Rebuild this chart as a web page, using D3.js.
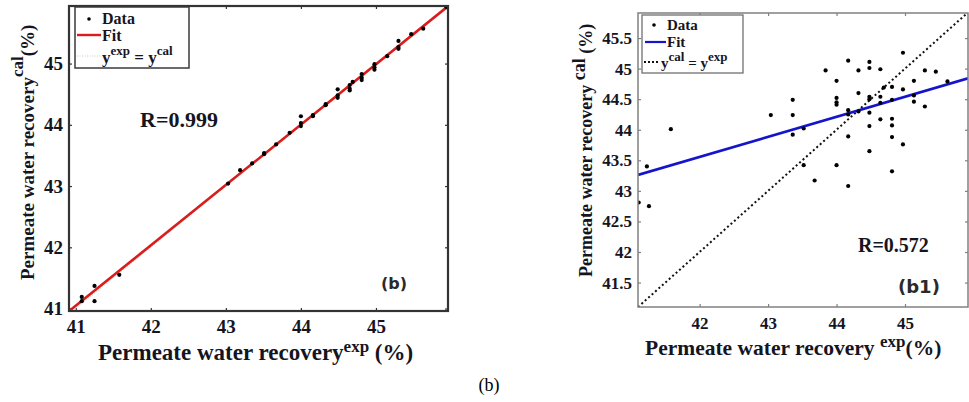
<!DOCTYPE html>
<html>
<head>
<meta charset="utf-8">
<script src="https://cdn.jsdelivr.net/npm/d3@7"></script>
<style>
  body { margin: 0; background: #fff; }
  svg { display: block; }
</style>
</head>
<body>
<script>
// values
var expLeft = [41.08, 41.08, 41.25, 41.25, 41.58, 43.03, 43.19, 43.35, 43.51, 43.51, 43.67, 43.85,
  44.00, 44.00, 44.00, 44.16, 44.16, 44.33, 44.33, 44.49, 44.49, 44.49, 44.65, 44.65, 44.65, 44.69,
  44.81, 44.81, 44.81, 44.98, 44.98, 44.98, 45.15, 45.30, 45.30, 45.30, 45.47, 45.63, 45.94];
var calLeft = [41.19, 41.12, 41.37, 41.12, 41.55, 43.04, 43.26, 43.37, 43.52, 43.54, 43.68, 43.87,
  44.14, 44.03, 43.98, 44.16, 44.14, 44.32, 44.34, 44.58, 44.48, 44.44, 44.65, 44.59, 44.56, 44.70,
  44.83, 44.77, 44.73, 44.99, 44.94, 44.90, 45.12, 45.37, 45.27, 45.24, 45.48, 45.57, 45.92];

var expRight = [41.11, 41.23, 41.26, 41.58, 43.04, 43.36, 43.36, 43.36, 43.52, 43.52, 43.68, 43.84,
  44.00, 44.00, 44.00, 44.00, 44.00, 44.17, 44.17, 44.17, 44.17, 44.17, 44.32, 44.32, 44.32,
  44.48, 44.48, 44.48, 44.48, 44.48, 44.48, 44.48, 44.64, 44.64, 44.64, 44.64, 44.69,
  44.81, 44.81, 44.81, 44.81, 44.81, 44.81, 44.97, 44.97, 44.97, 45.13, 45.13, 45.13,
  45.29, 45.29, 45.45, 45.62];
var calRight = [42.81, 43.40, 42.75, 44.01, 44.24, 44.49, 44.24, 43.92, 44.02, 43.42, 43.17, 44.97,
  44.80, 44.52, 44.45, 44.41, 43.42, 45.13, 44.32, 44.25, 43.89, 43.08, 44.97, 44.60, 44.30,
  45.11, 45.01, 44.54, 44.50, 44.28, 44.06, 43.65, 44.99, 44.54, 44.44, 44.17, 44.69,
  44.70, 44.49, 44.18, 44.07, 43.88, 43.32, 45.26, 44.66, 43.76, 44.80, 44.56, 44.46,
  44.97, 44.38, 44.95, 44.79];

var fitLeft = [0.62, 0.986];     // intercept, slope
var fitRight = [29.78, 0.328];

var xTicksLeft = [41, 42, 43, 44, 45];
var yTicksLeft = [41, 42, 43, 44, 45];
var xTicksRight = [42, 43, 44, 45];
var yTicksRight = [41.5, 42, 42.5, 43, 43.5, 44, 44.5, 45, 45.5];

var serif = "'Liberation Serif', 'Times New Roman', serif";
var ink = "#15151f";

var svg = d3.select("body").append("svg").attr("width", 969).attr("height", 402);
svg.append("rect").attr("width", 969).attr("height", 402).attr("fill", "#fff");

function panel(cfg) {
  var g = svg.append("g");
  var x = d3.scaleLinear().domain(cfg.xDomain).range([cfg.left, cfg.right]);
  var y = d3.scaleLinear().domain(cfg.yDomain).range([cfg.bottom, cfg.top]);
  var fmt = d3.format("~g");

  g.append("clipPath").attr("id", cfg.id + "clip")
    .append("rect").attr("x", cfg.left).attr("y", cfg.top)
    .attr("width", cfg.right - cfg.left).attr("height", cfg.bottom - cfg.top);

  function styleAxis(a) {
    a.select(".domain").remove();
    a.selectAll(".tick line").attr("stroke", cfg.frame).attr("stroke-width", 1.2);
    a.selectAll(".tick text").attr("font-family", serif).attr("font-weight", "bold")
      .attr("font-size", cfg.tickFont).attr("fill", ink);
  }

  g.append("g").attr("transform", "translate(0," + cfg.bottom + ")")
    .call(d3.axisBottom(x).tickValues(cfg.xTicks).tickSize(-3).tickPadding(cfg.xPad).tickFormat(fmt))
    .call(styleAxis);
  g.append("g").attr("transform", "translate(" + cfg.left + ",0)")
    .call(d3.axisLeft(y).tickValues(cfg.yTicks).tickSize(-3).tickPadding(cfg.yPad).tickFormat(fmt))
    .call(styleAxis);
  g.append("g").attr("transform", "translate(0," + cfg.top + ")")
    .call(d3.axisTop(x).tickValues(cfg.xTicks).tickSize(-3).tickFormat(""))
    .call(styleAxis);
  g.append("g").attr("transform", "translate(" + cfg.right + ",0)")
    .call(d3.axisRight(y).tickValues(cfg.yTicks).tickSize(-3).tickFormat(""))
    .call(styleAxis);

  var plot = g.append("g").attr("clip-path", "url(#" + cfg.id + "clip)");
  var line = d3.line().x(function (d) { return x(d[0]); }).y(function (d) { return y(d[1]); });
  var ends = cfg.xDomain;

  // y_exp = y_cal reference
  plot.append("path")
    .attr("d", line([[ends[0], ends[0]], [ends[1], ends[1]]]))
    .attr("fill", "none").attr("stroke", cfg.refColor).attr("stroke-width", cfg.refWidth)
    .attr("stroke-dasharray", cfg.refDash);

  // fit
  plot.append("path")
    .attr("d", line(ends.map(function (v) { return [v, cfg.fit[0] + cfg.fit[1] * v]; })))
    .attr("fill", "none").attr("stroke", cfg.fitColor).attr("stroke-width", 2.6);

  plot.selectAll("circle").data(cfg.exp).enter().append("circle")
    .attr("cx", function (d) { return x(d); })
    .attr("cy", function (d, i) { return y(cfg.cal[i]); })
    .attr("r", 2.1).attr("fill", "#000");

  g.append("rect").attr("x", cfg.left).attr("y", cfg.top)
    .attr("width", cfg.right - cfg.left).attr("height", cfg.bottom - cfg.top)
    .attr("fill", "none").attr("stroke", cfg.frame).attr("stroke-width", cfg.frameWidth);

  return { g: g, x: x, y: y };
}

// ---------- left panel (b) ----------
var L = panel({
  id: "pl", left: 69, right: 448, top: 6, bottom: 311,
  xDomain: [40.91, 45.96], yDomain: [40.96, 45.94],
  xTicks: xTicksLeft, yTicks: yTicksLeft, xPad: 9, yPad: 6, tickFont: 19,
  exp: expLeft, cal: calLeft, fit: fitLeft,
  fitColor: "#d91c1c", refColor: "#c8c8c8", refWidth: 1, refDash: "1,1.5",
  frame: "#333", frameWidth: 2.2
});

// legend
var lg = L.g.append("g");
lg.append("rect").attr("x", 75).attr("y", 7).attr("width", 114).attr("height", 61)
  .attr("fill", "#fff").attr("stroke", "#3a3a3a").attr("stroke-width", 1.5);
lg.append("circle").attr("cx", 89).attr("cy", 19).attr("r", 1.8).attr("fill", "#000");
lg.append("line").attr("x1", 77).attr("x2", 101).attr("y1", 35).attr("y2", 35)
  .attr("stroke", "#d91c1c").attr("stroke-width", 2.4);
lg.append("line").attr("x1", 77).attr("x2", 101).attr("y1", 56).attr("y2", 56)
  .attr("stroke", "#c8c8c8").attr("stroke-width", 1).attr("stroke-dasharray", "1,1.5");
lg.selectAll("text.ent").data(["Data", "Fit"]).enter().append("text")
  .attr("x", 102).attr("y", function (d, i) { return 24 + i * 17; })
  .attr("font-family", serif).attr("font-weight", "bold").attr("font-size", 16).attr("fill", ink)
  .text(function (d) { return d; });
var eq = lg.append("text").attr("x", 102).attr("y", 63)
  .attr("font-family", serif).attr("font-weight", "bold").attr("font-size", 17).attr("fill", ink);
eq.append("tspan").text("y");
eq.append("tspan").attr("dy", -8).attr("font-size", 13).text("exp");
eq.append("tspan").attr("dy", 8).text(" = y");
eq.append("tspan").attr("dy", -8).attr("font-size", 13).text("cal");

L.g.append("text").attr("x", 140).attr("y", 127)
  .attr("font-family", serif).attr("font-weight", "bold").attr("font-size", 22).attr("fill", ink)
  .text("R=0.999");
L.g.append("text").attr("x", 381).attr("y", 289)
  .attr("font-family", "'DejaVu Sans', sans-serif").attr("font-weight", "bold").attr("font-size", 16)
  .attr("fill", "#2a2a2a").text("(b)");

var lx = L.g.append("text").attr("x", 98).attr("y", 360)
  .attr("font-family", serif).attr("font-weight", "bold").attr("font-size", 23).attr("fill", ink);
lx.append("tspan").text("Permeate water recovery");
lx.append("tspan").attr("dy", -8).attr("font-size", 17).text("exp");
lx.append("tspan").attr("dy", 8).text(" (%)");

var ly = L.g.append("text").attr("transform", "translate(34,280) rotate(-90)")
  .attr("font-family", serif).attr("font-weight", "bold").attr("font-size", 19).attr("fill", ink);
ly.append("tspan").text("Permeate water recovery");
ly.append("tspan").attr("dy", -11).attr("font-size", 17).text("cal");
ly.append("tspan").attr("dy", 11).text("(%)");

// ---------- right panel (b1) ----------
var R = panel({
  id: "pr", left: 638, right: 968, top: 13, bottom: 307,
  xDomain: [41.1, 45.92], yDomain: [41.1, 45.91],
  xTicks: xTicksRight, yTicks: yTicksRight, xPad: 10, yPad: 6, tickFont: 17,
  exp: expRight, cal: calRight, fit: fitRight,
  fitColor: "#1414cc", refColor: "#111", refWidth: 2, refDash: "2,2.6",
  frame: "#808080", frameWidth: 1.5
});

var rg = R.g.append("g");
rg.append("rect").attr("x", 642).attr("y", 15).attr("width", 101).attr("height", 58)
  .attr("fill", "#fff").attr("stroke", "#707070").attr("stroke-width", 1.3);
rg.append("circle").attr("cx", 654).attr("cy", 25).attr("r", 1.8).attr("fill", "#000");
rg.append("line").attr("x1", 645).attr("x2", 666).attr("y1", 42).attr("y2", 42)
  .attr("stroke", "#1414cc").attr("stroke-width", 2.2);
rg.append("line").attr("x1", 644).attr("x2", 660).attr("y1", 62).attr("y2", 62)
  .attr("stroke", "#111").attr("stroke-width", 2).attr("stroke-dasharray", "2,2");
rg.selectAll("text.ent").data(["Data", "Fit"]).enter().append("text")
  .attr("x", 667).attr("y", function (d, i) { return 30 + i * 17; })
  .attr("font-family", serif).attr("font-weight", "bold").attr("font-size", 15).attr("fill", ink)
  .text(function (d) { return d; });
var eq2 = rg.append("text").attr("x", 661).attr("y", 68)
  .attr("font-family", serif).attr("font-weight", "bold").attr("font-size", 15).attr("fill", ink);
eq2.append("tspan").text("y");
eq2.append("tspan").attr("dy", -7).attr("font-size", 13).text("cal");
eq2.append("tspan").attr("dy", 7).text(" = y");
eq2.append("tspan").attr("dy", -7).attr("font-size", 13).text("exp");

R.g.append("text").attr("x", 858).attr("y", 252)
  .attr("font-family", serif).attr("font-weight", "bold").attr("font-size", 20).attr("fill", ink)
  .text("R=0.572");
R.g.append("text").attr("x", 898).attr("y", 293)
  .attr("font-family", "'DejaVu Sans', sans-serif").attr("font-weight", "bold").attr("font-size", 18)
  .attr("fill", "#2a2a2a").text("(b1)");

var rx = R.g.append("text").attr("x", 645).attr("y", 355)
  .attr("font-family", serif).attr("font-weight", "bold").attr("font-size", 21.5).attr("fill", ink);
rx.append("tspan").text("Permeate water recovery ");
rx.append("tspan").attr("dy", -8).attr("font-size", 17).text("exp");
rx.append("tspan").attr("dy", 8).text("(%)");

var ry = R.g.append("text").attr("transform", "translate(592,277) rotate(-90)")
  .attr("font-family", serif).attr("font-weight", "bold").attr("font-size", 18).attr("fill", ink);
ry.append("tspan").text("Permeate water recovery ");
ry.append("tspan").attr("dy", -7).attr("font-size", 18).text("cal");
ry.append("tspan").attr("dy", 7).text(" (%)");

// caption
svg.append("text").attr("x", 489).attr("y", 391).attr("text-anchor", "middle")
  .attr("font-family", serif).attr("font-size", 18).attr("fill", "#000").text("(b)");
</script>
</body>
</html>
